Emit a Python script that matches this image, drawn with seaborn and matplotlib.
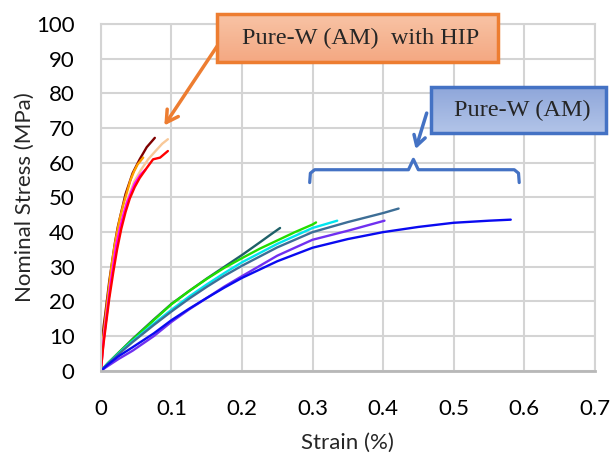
import numpy as np
import pandas as pd
import matplotlib.pyplot as plt
import seaborn as sns
from matplotlib.colors import LinearSegmentedColormap
from matplotlib.patches import Rectangle

# Pure-W (AM) with HIP specimens, strain (%) and nominal stress (MPa)
hip1_strain = [0, 0.0005, 0.002, 0.004, 0.006, 0.009, 0.012, 0.016, 0.02, 0.024, 0.028, 0.035, 0.045, 0.055, 0.065, 0.0765]
hip1_stress = [0, 5, 9, 13, 16, 21, 26, 31.5, 37, 41.5, 45, 51, 57, 61, 64.5, 67.2]
hip2_strain = [0, 0.003, 0.008, 0.012, 0.015, 0.019, 0.023, 0.027, 0.032, 0.037, 0.042, 0.047, 0.052, 0.06]
hip2_stress = [0, 9, 18, 25, 30, 35.5, 40, 44, 48, 51.5, 55, 57.5, 59.5, 61.5]
hip3_strain = [0, 0.004, 0.01, 0.014, 0.018, 0.022, 0.027, 0.032, 0.037, 0.047, 0.057, 0.067, 0.078, 0.087, 0.095]
hip3_stress = [0, 9, 19, 25.5, 31, 36.5, 41, 45.5, 49, 54.5, 58, 61, 63.5, 65.5, 66.8]
hip4_strain = [0, 0.004, 0.01, 0.014, 0.018, 0.022, 0.027, 0.032, 0.037, 0.043, 0.048, 0.056, 0.063]
hip4_stress = [0, 9, 19, 25.5, 31, 36.5, 41, 45, 48.5, 51.5, 54, 56.5, 58]
hip5_strain = [0, 0.0033, 0.008, 0.012, 0.0175, 0.023, 0.029, 0.035, 0.041, 0.048, 0.055, 0.065, 0.074, 0.084, 0.095]
hip5_stress = [0, 7, 14.6, 21, 28.3, 35, 41, 45.8, 49.7, 53, 55.6, 58.5, 61, 61.5, 63.4]

# Pure-W (AM) specimens
am1_strain = [0, 0.01, 0.025, 0.045, 0.075, 0.1, 0.125, 0.15, 0.175, 0.2, 0.225, 0.24, 0.254]
am1_stress = [0, 2.2, 5.2, 9.2, 14.8, 19.3, 23, 26.6, 30, 33.4, 37, 39.2, 41.2]
am2_strain = [0, 0.01, 0.025, 0.045, 0.075, 0.1, 0.125, 0.15, 0.175, 0.2, 0.225, 0.25, 0.275, 0.3, 0.305]
am2_stress = [0, 2.2, 5.2, 9, 14.6, 19.2, 23, 26.5, 29.7, 32.5, 35.2, 37.6, 40, 42.2, 42.8]
am3_strain = [0, 0.01, 0.025, 0.045, 0.075, 0.1, 0.125, 0.15, 0.175, 0.2, 0.25, 0.3, 0.335]
am3_stress = [0, 2.1, 5, 8.6, 13.6, 17.6, 21.4, 24.9, 28.2, 31.3, 36.6, 41.2, 43.3]
am4_strain = [0, 0.01, 0.025, 0.045, 0.075, 0.1, 0.125, 0.15, 0.175, 0.2, 0.25, 0.3, 0.35, 0.4, 0.422]
am4_stress = [0, 2, 4.8, 8.3, 13.2, 17.1, 20.8, 24.2, 27.4, 30.3, 35.6, 40, 42.9, 45.5, 46.8]
am5_strain = [0, 0.01, 0.025, 0.045, 0.075, 0.1, 0.125, 0.15, 0.175, 0.2, 0.25, 0.3, 0.35, 0.402]
am5_stress = [0, 1.4, 3.4, 5.8, 10, 14.1, 17.7, 21, 24.3, 27.3, 33.2, 37.8, 40.4, 43.3]
am6_strain = [0, 0.01, 0.025, 0.045, 0.075, 0.1, 0.125, 0.15, 0.175, 0.2, 0.25, 0.3, 0.35, 0.4, 0.45, 0.5, 0.55, 0.581]
am6_stress = [0, 1.8, 4.2, 6.8, 10.8, 14.6, 17.9, 21, 24, 26.8, 31.6, 35.5, 38, 40, 41.5, 42.7, 43.3, 43.6]

curves = {
    'HIP-1': (hip1_strain, hip1_stress),
    'HIP-2': (hip2_strain, hip2_stress),
    'HIP-3': (hip3_strain, hip3_stress),
    'HIP-4': (hip4_strain, hip4_stress),
    'HIP-5': (hip5_strain, hip5_stress),
    'AM-1': (am1_strain, am1_stress),
    'AM-2': (am2_strain, am2_stress),
    'AM-3': (am3_strain, am3_stress),
    'AM-4': (am4_strain, am4_stress),
    'AM-5': (am5_strain, am5_stress),
    'AM-6': (am6_strain, am6_stress),
}
colors = {
    'HIP-1': '#7F0000', 'HIP-2': '#FFA000', 'HIP-3': '#F8C898',
    'HIP-4': '#FF00FF', 'HIP-5': '#FF0000',
    'AM-1': '#1F6068', 'AM-2': '#22DD00', 'AM-3': '#00E5EE',
    'AM-4': '#3D6E96', 'AM-5': '#7030F0', 'AM-6': '#0A0AF0',
}

rows = []
for name, (xs, ys) in curves.items():
    for x, y in zip(xs, ys):
        rows.append({'specimen': name, 'strain': x, 'stress': y})
df = pd.DataFrame(rows)

sns.set_theme(style='white')
plt.rcParams['font.family'] = ['Lato', 'DejaVu Sans']

fig = plt.figure(figsize=(6.15, 4.55), dpi=100)
ax = fig.add_axes([0.164, 0.185, 0.803, 0.762])

sns.lineplot(data=df, x='strain', y='stress', hue='specimen', palette=colors,
             sort=False, estimator=None, legend=False, linewidth=1.7, ax=ax)

ax.set_xlim(0, 0.7)
ax.set_ylim(0, 100)
ax.set_xticks([0, 0.1, 0.2, 0.3, 0.4, 0.5, 0.6, 0.7])
ax.set_xticklabels(['0', '0.1', '0.2', '0.3', '0.4', '0.5', '0.6', '0.7'])
ax.set_yticks(range(0, 101, 10))
ax.grid(True, color='#D4D4D4', linewidth=1.5)
ax.set_axisbelow(True)
for side in ['top', 'right', 'left']:
    ax.spines[side].set_color('#D4D4D4')
    ax.spines[side].set_linewidth(1.5)
ax.spines['bottom'].set_color('#B8B8B8')
ax.spines['bottom'].set_linewidth(2)
ax.tick_params(axis='both', length=0, labelsize=16, colors='black')
ax.tick_params(axis='y', pad=19)
ax.tick_params(axis='x', pad=20)
ax.set_xlabel('Strain (%)', fontsize=16, labelpad=10)
ax.set_ylabel('Nominal Stress (MPa)', fontsize=16, labelpad=1)


def callout(rect, top, bottom, edge, text, tx, ty):
    # gradient filled box with a border, in figure coordinates
    bax = fig.add_axes(rect)
    grad = LinearSegmentedColormap.from_list('g', [top, bottom])
    bax.imshow(np.linspace(0, 1, 64).reshape(-1, 1), cmap=grad, aspect='auto',
               extent=[0, 1, 0, 1], origin='upper')
    bax.set_axis_off()
    fig.patches.append(Rectangle(rect[:2], rect[2], rect[3], transform=fig.transFigure,
                                 facecolor='none', edgecolor=edge, linewidth=2.5,
                                 zorder=5))
    fig.text(tx, ty, text, family='Liberation Serif', fontsize=17.5,
             ha='center', va='center', zorder=6)


callout([0.3528, 0.8637, 0.457, 0.1055], '#F8C4A6', '#F4A882', '#ED7D31',
        'Pure-W (AM)  with HIP', 0.587, 0.9165)
callout([0.7008, 0.7077, 0.2846, 0.1011], '#8EA6DA', '#B2C4E8', '#4472C4',
        'Pure-W (AM)', 0.849, 0.758)

# arrows
ax.annotate('', xy=(0.0878, 70.1), xytext=(0.1686, 94.8),
            arrowprops=dict(arrowstyle='->,head_length=0.7,head_width=0.4',
                            color='#ED7D31', lw=2.5), annotation_clip=False)
ax.annotate('', xy=(0.445, 63.2), xytext=(0.463, 75.1),
            arrowprops=dict(arrowstyle='->,head_length=0.6,head_width=0.35',
                            color='#4472C4', lw=2.5), annotation_clip=False)

# brace over the AM curves
brace_x = [0.296, 0.297, 0.303, 0.436, 0.443, 0.450, 0.586, 0.592, 0.593]
brace_y = [54.3, 57.0, 58.0, 58.0, 61.0, 58.0, 58.0, 57.0, 54.3]
ax.plot(brace_x, brace_y, color='#4472C4', lw=2.3, solid_joinstyle='round')

fig.savefig('out.png', dpi=100)
